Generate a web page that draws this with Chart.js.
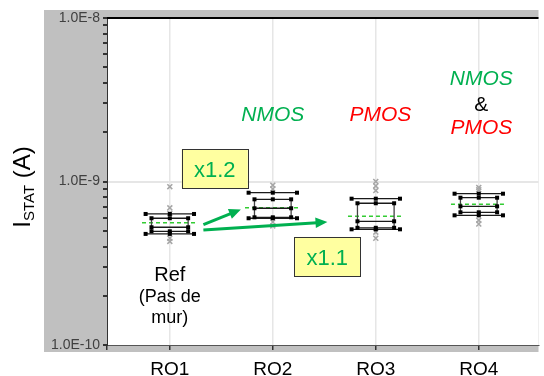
<!DOCTYPE html>
<html>
<head>
<meta charset="utf-8">
<script src="https://cdn.jsdelivr.net/npm/chart.js@4.4.0/dist/chart.umd.min.js"></script>
<style>
html,body{margin:0;padding:0;background:#fff;}
canvas{display:block;}
</style>
</head>
<body>
<canvas id="grafico" width="544" height="376"></canvas>
<script>
// dados
var grupos = ['RO1', 'RO2', 'RO3', 'RO4'];
var bigodeAlto = [6.33e-10, 8.54e-10, 7.85e-10, 8.42e-10];
var quartil3 = [5.96e-10, 7.78e-10, 7.36e-10, 7.96e-10];
var mediana = [5.25e-10, 6.86e-10, 5.71e-10, 7.05e-10];
var quartil1 = [4.96e-10, 6.04e-10, 5.21e-10, 6.48e-10];
var bigodeBaixo = [4.78e-10, 5.96e-10, 5.10e-10, 6.21e-10];
var media = [5.60e-10, 6.92e-10, 6.12e-10, 7.25e-10];
var pontosFora = [
  [9.3e-10, 6.9e-10, 6.4e-10, 4.5e-10, 4.3e-10],
  [9.5e-10, 9.0e-10, 5.65e-10, 5.35e-10],
  [1.0e-9, 9.4e-10, 8.8e-10, 4.9e-10, 4.5e-10],
  [9.2e-10, 8.9e-10, 5.8e-10, 5.5e-10]
];
var yTicks = [1e-10, 2e-10, 3e-10, 4e-10, 5e-10, 6e-10, 7e-10, 8e-10, 9e-10,
  1e-9, 2e-9, 3e-9, 4e-9, 5e-9, 6e-9, 7e-9, 8e-9, 9e-9, 1e-8];

// textos e setas (posicao em coordenadas do grafico)
var textos = [
  { t: 'NMOS', x: 2.0, y: 2.34e-9, cor: '#00B050', fonte: 'italic 21px "Liberation Sans", Arial' },
  { t: 'PMOS', x: 3.045, y: 2.34e-9, cor: '#FF0000', fonte: 'italic 21px "Liberation Sans", Arial' },
  { t: 'NMOS', x: 4.025, y: 3.89e-9, cor: '#00B050', fonte: 'italic 21px "Liberation Sans", Arial' },
  { t: '&', x: 4.025, y: 2.70e-9, cor: '#000000', fonte: '21px "Liberation Sans", Arial' },
  { t: 'PMOS', x: 4.025, y: 1.95e-9, cor: '#FF0000', fonte: 'italic 21px "Liberation Sans", Arial' },
  { t: 'Ref', x: 1.0, y: 2.47e-10, cor: '#000000', fonte: '20px "Liberation Sans", Arial' },
  { t: '(Pas de', x: 1.0, y: 1.84e-10, cor: '#000000', fonte: '18px "Liberation Sans", Arial' },
  { t: 'mur)', x: 1.0, y: 1.37e-10, cor: '#000000', fonte: '18px "Liberation Sans", Arial' }
];
var caixas = [
  { t: 'x1.2', x1: 1.115, x2: 1.757, y1: 1.58e-9, y2: 9.13e-10, ty: 1.07e-9 },
  { t: 'x1.1', x1: 2.208, x2: 2.850, y1: 4.58e-10, y2: 2.64e-10, ty: 3.1e-10 }
];
var setas = [
  { x1: 1.326, y1: 5.45e-10, x2: 1.69, y2: 6.75e-10 },
  { x1: 1.326, y1: 5.05e-10, x2: 2.53, y2: 5.65e-10 }
];

function ehPotencia10(v) {
  var l = Math.log10(v);
  return Math.abs(l - Math.round(l)) < 1e-9;
}

function seta(ctx, ax, ay, bx, by) {
  var ang = Math.atan2(by - ay, bx - ax);
  var cab = 13;
  ctx.save();
  ctx.strokeStyle = '#00B050';
  ctx.fillStyle = '#00B050';
  ctx.lineWidth = 3;
  ctx.beginPath();
  ctx.moveTo(ax, ay);
  ctx.lineTo(bx - Math.cos(ang) * cab * 0.8, by - Math.sin(ang) * cab * 0.8);
  ctx.stroke();
  ctx.beginPath();
  ctx.moveTo(bx, by);
  ctx.lineTo(bx - Math.cos(ang - 0.42) * cab, by - Math.sin(ang - 0.42) * cab);
  ctx.lineTo(bx - Math.cos(ang + 0.42) * cab, by - Math.sin(ang + 0.42) * cab);
  ctx.closePath();
  ctx.fill();
  ctx.restore();
}

var fundoPlugin = {
  id: 'fundo',
  beforeDraw: function(chart) {
    var ctx = chart.ctx, a = chart.chartArea;
    ctx.save();
    ctx.fillStyle = '#C0C0C0';
    ctx.fillRect(a.left - 63, a.top - 8, a.right - a.left + 63, a.bottom - a.top + 15);
    ctx.fillStyle = '#FFFFFF';
    ctx.fillRect(a.left, a.top, a.right - a.left, a.bottom - a.top);
    ctx.restore();
  },
  afterDraw: function(chart) {
    var ctx = chart.ctx, a = chart.chartArea;
    ctx.save();
    ctx.fillStyle = '#000';
    ctx.fillRect(a.left, a.top - 1, a.right - a.left, 2);
    // titulo do eixo y com subscrito
    ctx.translate(30, 187);
    ctx.rotate(-Math.PI / 2);
    ctx.textBaseline = 'alphabetic';
    ctx.textAlign = 'left';
    var fG = '24px "Liberation Sans", Arial', fP = '15px "Liberation Sans", Arial';
    ctx.font = fG; var w1 = ctx.measureText('I').width;
    ctx.font = fP; var w2 = ctx.measureText('STAT').width;
    ctx.font = fG; var w3 = ctx.measureText(' (A)').width;
    var x0 = -(w1 + w2 + w3) / 2;
    ctx.fillStyle = '#000';
    ctx.font = fG; ctx.fillText('I', x0, 0);
    ctx.font = fP; ctx.fillText('STAT', x0 + w1, 4);
    ctx.font = fG; ctx.fillText(' (A)', x0 + w1 + w2, 0);
    ctx.restore();
  }
};

var caixaPlugin = {
  id: 'caixas',
  afterDatasetsDraw: function(chart) {
    var ctx = chart.ctx, xs = chart.scales.x, ys = chart.scales.y;
    ctx.save();
    function quad(x, y) { ctx.fillRect(x - 2, y - 2, 4, 4); }
    function linha(xa, ya, xb, yb) { ctx.beginPath(); ctx.moveTo(xa, ya); ctx.lineTo(xb, yb); ctx.stroke(); }
    grupos.forEach(function(g, i) {
      var c = i + 1;
      var cx = xs.getPixelForValue(c);
      var wl = xs.getPixelForValue(c - 0.235), wr = xs.getPixelForValue(c + 0.235);
      var bl = xs.getPixelForValue(c - 0.178), br = xs.getPixelForValue(c + 0.178);
      var ml = xs.getPixelForValue(c - 0.27), mr = xs.getPixelForValue(c + 0.27);
      var yWh = ys.getPixelForValue(bigodeAlto[i]);
      var yQ3 = ys.getPixelForValue(quartil3[i]);
      var yMd = ys.getPixelForValue(mediana[i]);
      var yQ1 = ys.getPixelForValue(quartil1[i]);
      var yWl = ys.getPixelForValue(bigodeBaixo[i]);
      var yMe = ys.getPixelForValue(media[i]);

      // media tracejada
      ctx.strokeStyle = '#33CC33';
      ctx.lineWidth = 1.5;
      ctx.setLineDash([4, 3]);
      linha(ml, yMe, mr, yMe);
      ctx.setLineDash([]);

      ctx.strokeStyle = '#1A1A1A';
      ctx.fillStyle = '#000';
      ctx.lineWidth = 1.3;
      linha(wl, yWh, wr, yWh);
      linha(wl, yWl, wr, yWl);
      linha(bl, yQ3, br, yQ3);
      linha(bl, yMd, br, yMd);
      linha(bl, yQ1, br, yQ1);
      ctx.strokeStyle = '#444';
      linha(bl, yQ3, bl, yQ1);
      linha(br, yQ3, br, yQ1);

      quad(wl, yWh); quad(cx, yWh); quad(wr, yWh);
      quad(wl, yWl); quad(cx, yWl); quad(wr, yWl);
      quad(bl, yQ3); quad(cx, yQ3); quad(br, yQ3);
      quad(bl, yMd); quad(br, yMd);
      quad(bl, yQ1); quad(cx, yQ1); quad(br, yQ1);
    });

    // caixas amarelas
    caixas.forEach(function(b) {
      var x1 = xs.getPixelForValue(b.x1), x2 = xs.getPixelForValue(b.x2);
      var y1 = ys.getPixelForValue(b.y1), y2 = ys.getPixelForValue(b.y2);
      ctx.fillStyle = '#FFFFA0';
      ctx.fillRect(x1, y1, x2 - x1, y2 - y1);
      ctx.strokeStyle = '#333';
      ctx.lineWidth = 1;
      ctx.strokeRect(Math.round(x1) + 0.5, Math.round(y1) + 0.5, Math.round(x2 - x1), Math.round(y2 - y1));
      ctx.fillStyle = '#00B050';
      ctx.font = '22px "Liberation Sans", Arial';
      ctx.textAlign = 'center';
      ctx.textBaseline = 'alphabetic';
      ctx.fillText(b.t, (x1 + x2) / 2, ys.getPixelForValue(b.ty));
    });

    setas.forEach(function(s) {
      seta(ctx, xs.getPixelForValue(s.x1), ys.getPixelForValue(s.y1), xs.getPixelForValue(s.x2), ys.getPixelForValue(s.y2));
    });

    textos.forEach(function(t) {
      ctx.font = t.fonte;
      ctx.fillStyle = t.cor;
      ctx.textAlign = 'center';
      ctx.textBaseline = 'alphabetic';
      ctx.fillText(t.t, xs.getPixelForValue(t.x), ys.getPixelForValue(t.y));
    });
    ctx.restore();
  }
};

var dadosFora = [];
pontosFora.forEach(function(lista, i) {
  lista.forEach(function(v) { dadosFora.push({ x: i + 1, y: v }); });
});

var grafico = new Chart(document.getElementById('grafico'), {
  type: 'scatter',
  data: {
    datasets: [{
      label: 'Pontos',
      data: dadosFora,
      pointStyle: 'crossRot',
      pointRadius: 3.5,
      pointBorderWidth: 1.5,
      borderColor: '#A6A6A6',
      backgroundColor: '#A6A6A6'
    }]
  },
  options: {
    responsive: false,
    animation: false,
    layout: { padding: { left: 44, top: 18, right: 0, bottom: 0 } },
    plugins: { legend: { display: false }, tooltip: { enabled: false } },
    scales: {
      x: {
        type: 'linear',
        min: 0.39,
        max: 4.58,
        afterBuildTicks: function(scale) {
          scale.ticks = [{ value: 0.39 }].concat(grupos.map(function(g, i) { return { value: i + 1 }; }));
        },
        afterFit: function(scale) { scale.height = 31; },
        ticks: {
          color: '#000',
          padding: 8,
          font: { family: '"Liberation Sans", Arial', size: 19 },
          callback: function(v) { return grupos[v - 1] || ''; }
        },
        grid: {
          color: function(c) { return c.tick && c.tick.value >= 1 ? '#E6E6E6' : 'rgba(0,0,0,0)'; },
          lineWidth: 1.5,
          tickColor: '#333',
          tickLength: 5
        },
        border: { display: true, color: '#555', width: 1 }
      },
      y: {
        type: 'logarithmic',
        min: 1e-10,
        max: 1e-8,
        afterBuildTicks: function(scale) {
          scale.ticks = yTicks.map(function(v) { return { value: v }; });
        },
        afterFit: function(scale) { scale.width = 63; },
        ticks: {
          color: '#404040',
          padding: 3,
          autoSkip: false,
          font: { family: '"Liberation Sans", Arial', size: 14 },
          callback: function(v) {
            return ehPotencia10(v) ? '1.0E' + Math.round(Math.log10(v)) : '';
          }
        },
        grid: {
          color: function(c) {
            return c.tick && Math.abs(c.tick.value - 1e-9) < 1e-12 ? '#E6E6E6' : 'rgba(0,0,0,0)';
          },
          lineWidth: 2,
          tickColor: '#333',
          tickLength: 4
        },
        border: { display: true, color: '#333', width: 1 }
      }
    }
  },
  plugins: [fundoPlugin, caixaPlugin]
});
</script>
</body>
</html>
